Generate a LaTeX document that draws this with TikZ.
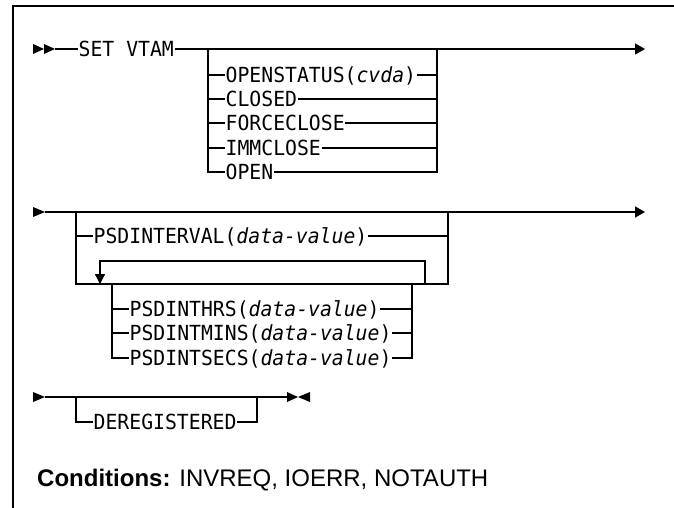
\documentclass[tikz,border=0pt]{standalone}
\usepackage{fontspec}
\setmainfont{Liberation Sans}
\setmonofont{DejaVu Sans Mono}[ItalicFont={DejaVu Sans Mono Oblique}, FakeStretch=0.95]
\usetikzlibrary{arrows.meta}
\begin{document}
\begin{tikzpicture}[x=1pt,y=-1pt,
  rail/.style={line width=1.3pt},
  kw/.style={font=\ttfamily\fontsize{20.8}{21}\selectfont, inner xsep=0.5pt, inner ysep=0pt,
             text height=15.2pt, text depth=0pt, anchor=west},
  endarrow/.style={-{Triangle[length=10pt,width=11pt]}},
  looparrow/.style={-{Triangle[length=10pt,width=10pt]}},
  frame/.style={line width=1.5pt}
]
\useasboundingbox (0,0) rectangle (674,508);

% frame
\coordinate (ftr) at (674,6);
\coordinate (ftl) at (13,6);
\coordinate (fbl) at (13,508);
\draw[frame] (ftr) -- (ftl) -- (fbl);

% ---------- row 1 ----------
\fill (33,44) -- (44,49) -- (33,54) -- cycle;
\fill (44,44) -- (55,49) -- (44,54) -- cycle;
\coordinate (s1) at (55,49);
\coordinate (e1) at (645,49);
\node[kw] (set) at (78,49) {SET VTAM};
\draw[rail] (s1) -- (set.west);
\draw[rail,endarrow] (set.east) -- (e1);

\coordinate (g1l) at (208,49);
\coordinate (g1r) at (437,49);
\node[kw] (o1) at (225,75) {OPENSTATUS(\textit{cvda})};
\node[kw] (o2) at (225,99) {CLOSED};
\node[kw] (o3) at (225,123) {FORCECLOSE};
\node[kw] (o4) at (225,148) {IMMCLOSE};
\node[kw] (o5) at (225,172) {OPEN};
\draw[rail] (g1l) |- (o5.west);
\draw[rail] (g1r) |- (o5.east);
\foreach \o in {o1,o2,o3,o4}{
  \draw[rail] (\o.west -| g1l) -- (\o.west);
  \draw[rail] (\o.east) -- (\o.east -| g1r);
}

% ---------- row 2 ----------
\fill (33,207) -- (45,212) -- (33,217) -- cycle;
\coordinate (s2) at (45,212);
\coordinate (e2) at (645,212);
\draw[rail,endarrow] (s2) -- (e2);

\coordinate (g2l) at (76,212);
\coordinate (g2r) at (448,212);
\coordinate (g2bl) at (76,284);
\coordinate (g2br) at (448,284);
\draw[rail] (g2l) -- (g2bl) -- (g2br) -- (g2r);
\node[kw] (p0) at (93,236) {PSDINTERVAL(\textit{data-value})};
\draw[rail] (p0.west -| g2l) -- (p0.west);
\draw[rail] (p0.east) -- (p0.east -| g2r);

\coordinate (lr) at (425,284);
\coordinate (lrt) at (425,261);
\coordinate (llt) at (100,261);
\coordinate (ll) at (100,284);
\draw[rail,looparrow] (lr) -- (lrt) -- (llt) -- (ll);

\coordinate (g3l) at (112,284);
\coordinate (g3r) at (412,284);
\node[kw] (p1) at (129,309) {PSDINTHRS(\textit{data-value})};
\node[kw] (p2) at (129,333) {PSDINTMINS(\textit{data-value})};
\node[kw] (p3) at (129,358) {PSDINTSECS(\textit{data-value})};
\draw[rail] (g3l) |- (p3.west);
\draw[rail] (g3r) |- (p3.east);
\foreach \o in {p1,p2}{
  \draw[rail] (\o.west -| g3l) -- (\o.west);
  \draw[rail] (\o.east) -- (\o.east -| g3r);
}

% ---------- row 3 ----------
\fill (33,392) -- (45,397) -- (33,402) -- cycle;
\coordinate (s3) at (45,397);
\coordinate (e3) at (287,397);
\draw[rail] (s3) -- (e3);
\fill (287,392) -- (298,397) -- (287,402) -- cycle;
\fill (310,392) -- (298,397) -- (310,402) -- cycle;

\coordinate (g4l) at (76,397);
\coordinate (g4r) at (257,397);
\node[kw] (dr) at (93,422) {DEREGISTERED};
\draw[rail] (g4l) |- (dr.west);
\draw[rail] (g4r) |- (dr.east);

% ---------- conditions ----------
\node[anchor=base west, inner sep=0pt, font=\fontsize{24}{28}\selectfont] (cond) at (37,486.5)
  {\textbf{Conditions:} INVREQ, IOERR, NOTAUTH};
\end{tikzpicture}
\end{document}
